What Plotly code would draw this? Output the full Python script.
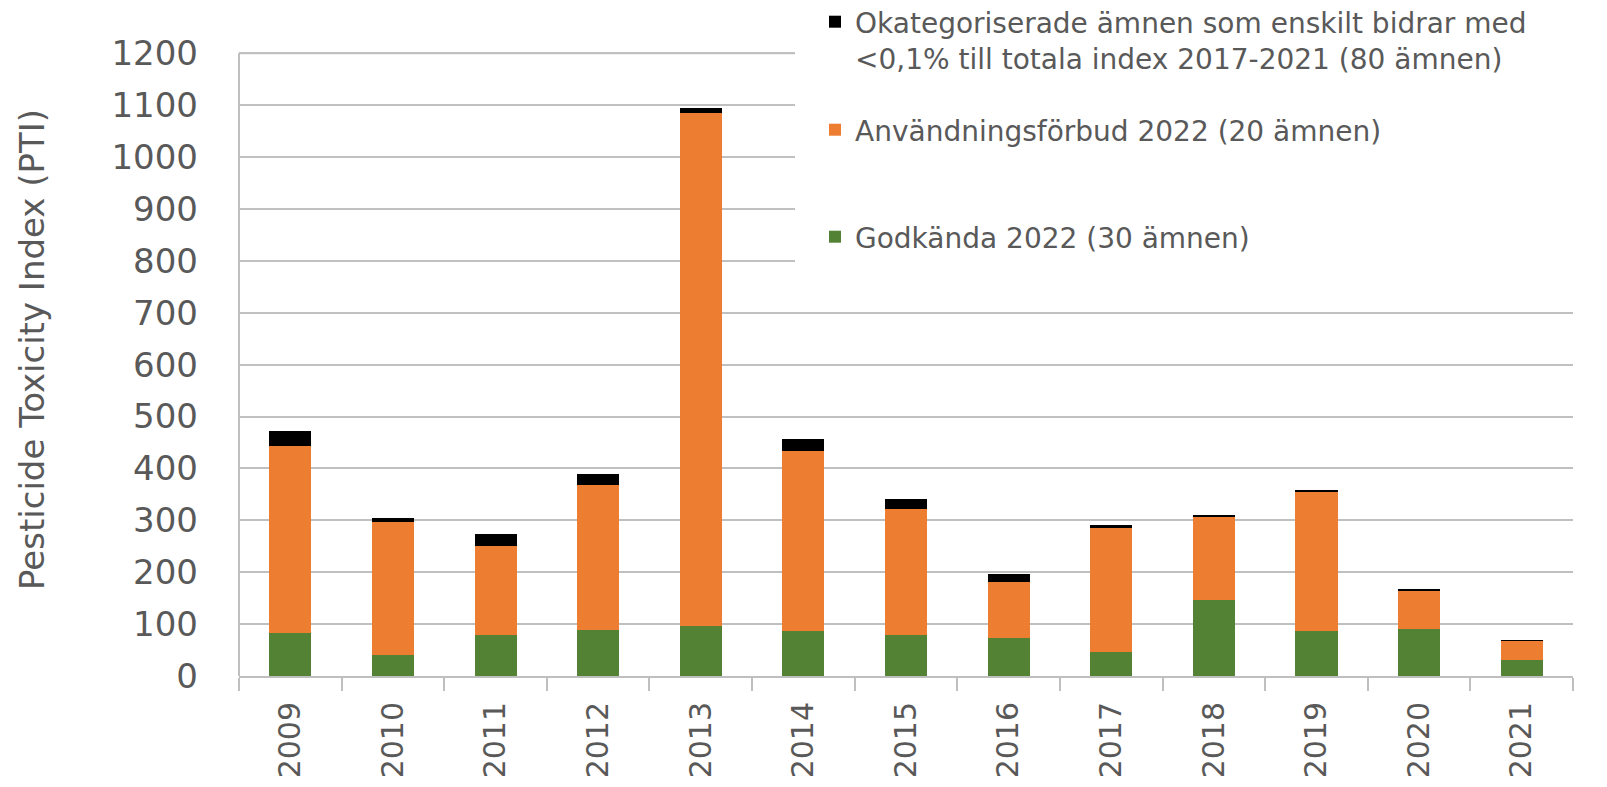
import plotly.graph_objects as go

years = ["2009", "2010", "2011", "2012", "2013", "2014", "2015", "2016", "2017", "2018", "2019", "2020", "2021"]
godkanda = [82, 41, 79, 89, 96, 87, 79, 74, 46, 146, 86, 90, 31]
forbud = [362, 256, 172, 279, 988, 347, 243, 108, 239, 160, 269, 73, 37]
okategoriserade = [29, 7, 23, 22, 10, 23, 19, 14, 5, 5, 3, 5, 1]

name_green = "Godkända 2022 (30 ämnen)"
name_orange = "Användningsförbud 2022 (20 ämnen)"
name_black = "Okategoriserade ämnen som enskilt bidrar med<br>&lt;0,1% till totala index 2017-2021 (80 ämnen)"
y_title = "Pesticide Toxicity Index (PTI)"
y_max = 1200

FONT = "DejaVu Sans"
GREY = "#595959"
GRID = "#C0C0C0"

fig = go.Figure()
fig.add_trace(go.Bar(x=years, y=godkanda, name=name_green, marker_color="#548235",
                     marker_line_width=0, legend="legend3", showlegend=True))
fig.add_trace(go.Bar(x=years, y=forbud, name=name_orange, marker_color="#ED7D31",
                     marker_line_width=0, legend="legend2", showlegend=True))
fig.add_trace(go.Bar(x=years, y=okategoriserade, name=name_black, marker_color="#000000",
                     marker_line_width=0, legend="legend", showlegend=True))

L, R, T, B = 231, 42, 40, 119
W, H = 1607, 787
ph = H - T - B
pw = W - L - R

def py(Y):
    return (H - B - Y) / ph

def px(X):
    return (X - L) / pw

legend_common = dict(x=px(807), xanchor="left", yanchor="middle", bgcolor="rgba(0,0,0,0)",
                     font=dict(family=FONT, size=28, color=GREY), valign="top", itemsizing="constant",
                     visible=True)

fig.update_layout(
    width=W, height=H,
    margin=dict(l=L, r=R, t=T, b=B, autoexpand=False),
    barmode="stack",
    bargap=0.59,
    showlegend=True,
    plot_bgcolor="white", paper_bgcolor="white",
    font=dict(family=FONT, color=GREY),
    legend=dict(y=py(32), **legend_common),
    legend2=dict(y=py(122), **legend_common),
    legend3=dict(y=py(229), **legend_common),
    annotations=[dict(text=y_title, xref="paper", yref="paper", x=px(24), y=py(342),
                      xanchor="center", yanchor="middle", textangle=-90, showarrow=False,
                      font=dict(family=FONT, size=34, color=GREY))],
)

fig.update_xaxes(
    type="category", showline=True, linecolor="#BFBFBF", linewidth=2,
    ticks="outside", tickson="boundaries", ticklen=13, tickcolor="#BFBFBF", tickwidth=2,
    tickangle=-90, tickfont=dict(family=FONT, size=30, color=GREY),
    ticklabelstandoff=12, showgrid=False, automargin=False,
)
fig.update_yaxes(
    range=[0, 1210], dtick=100, tick0=0, showgrid=True, gridcolor=GRID, gridwidth=2,
    showline=False, zeroline=False,
    tickfont=dict(family=FONT, size=34, color=GREY), ticklabelstandoff=40,
    automargin=False,
)
# white area behind the legend (covers the gridlines there)
fig.add_shape(type="rect", xref="paper", yref="paper", x0=px(787), x1=1.01,
              y0=py(280), y1=1.02, fillcolor="white", line_width=0, layer="above")
# top gridline at the axis maximum (left of the legend area)
fig.add_shape(type="line", xref="paper", yref="y", x0=0, x1=px(787), y0=y_max, y1=y_max,
              line=dict(color=GRID, width=2), layer="above")
# y axis line
fig.add_shape(type="line", xref="paper", yref="y", x0=0, x1=0, y0=0, y1=y_max,
              line=dict(color="#BFBFBF", width=2), layer="above")

fig.write_html("out.html")
